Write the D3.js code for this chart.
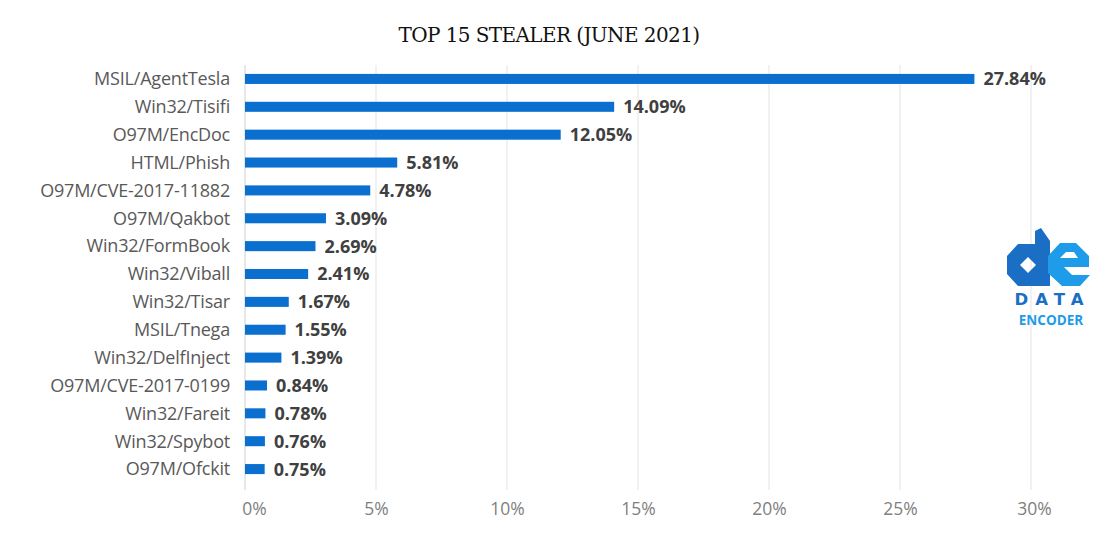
<!DOCTYPE html>
<html><head><meta charset="utf-8">
<script src="https://cdn.jsdelivr.net/npm/d3@7"></script>
<style>body{margin:0;background:#fff;}svg{display:block;}</style>
</head><body>
<script>
const categories = ["MSIL/AgentTesla","Win32/Tisifi","O97M/EncDoc","HTML/Phish","O97M/CVE-2017-11882","O97M/Qakbot","Win32/FormBook","Win32/Viball","Win32/Tisar","MSIL/Tnega","Win32/DelfInject","O97M/CVE-2017-0199","Win32/Fareit","Win32/Spybot","O97M/Ofckit"];
const values = [27.84,14.09,12.05,5.81,4.78,3.09,2.69,2.41,1.67,1.55,1.39,0.84,0.78,0.76,0.75];
const ticks = [0,5,10,15,20,25,30];
const title = "TOP 15 STEALER (JUNE 2021)";

const W=1100,H=550;
const svg=d3.select("body").append("svg").attr("width",W).attr("height",H);
const x=d3.scaleLinear().domain([0,30]).range([245,1031]);
const y=d3.scaleBand().domain(categories).range([65,483]).paddingInner(0.64).paddingOuter(0.32);

svg.append("text").attr("x",549).attr("y",42).attr("text-anchor","middle")
  .attr("font-family","'DejaVu Serif', serif").attr("font-size",20).attr("fill","#111")
  .attr("letter-spacing","-0.6").text(title);

// gridlines
svg.append("g").selectAll("line").data(ticks).join("line")
  .attr("x1",d=>x(d)).attr("x2",d=>x(d)).attr("y1",65).attr("y2",490)
  .attr("stroke",d=>d===0?"#d0d0d0":"#e3e3e3").attr("stroke-width",1);

// x axis labels
const xa=svg.append("g").attr("transform","translate(0,507)")
  .call(d3.axisBottom(x).tickValues(ticks).tickFormat(d=>d+"%").tickSize(0));
xa.select(".domain").remove();
xa.selectAll("text").attr("font-family","'Open Sans', sans-serif").attr("font-size",17.5).attr("fill","#7f7f7f").attr("dy","0").attr("dominant-baseline","middle")
  .attr("dx",(d,i)=>i===0?9:(i===6?3:0));

// y axis labels
const ya=svg.append("g").attr("transform","translate(230,0)")
  .call(d3.axisLeft(y).tickSize(0));
ya.select(".domain").remove();
ya.selectAll("text").attr("font-family","'Open Sans', sans-serif").attr("font-size",18).attr("fill","#595959").attr("x",0).attr("dy","0.35em").attr("letter-spacing","-0.2");

// bars
svg.append("g").selectAll("rect").data(values).join("rect")
  .attr("x",x(0)).attr("y",(d,i)=>y(categories[i]))
  .attr("width",d=>x(d)-x(0)).attr("height",y.bandwidth()).attr("fill","#0a6fce");

// value labels
svg.append("g").selectAll("text").data(values).join("text")
  .attr("x",d=>x(d)+9).attr("y",(d,i)=>y(categories[i])+y.bandwidth()/2).attr("dy","0.36em")
  .attr("font-family","'Open Sans', sans-serif").attr("font-weight","bold").attr("font-size",18)
  .attr("fill","#404040").text(d=>d.toFixed(2)+"%");

// logo
const lg=svg.append("g");
lg.append("path").attr("d","M1007,256 L1018,244 L1035,244 L1035,231 L1041,228 L1050,241 L1050,286 L1018,286 L1007,274 Z M1020,265 L1028,257 L1036,265 L1028,273 Z")
  .attr("fill","#1a6fc4").attr("fill-rule","evenodd");
lg.append("path").attr("d","M1048,256 L1060,243 L1076,243 L1089,256 L1089,267 L1064,267 L1072,275 L1090,275 L1080,286 L1062,286 L1048,273 Z M1060,258 L1066,252 L1074,252 L1078,258 Z")
  .attr("fill","#1e9be9").attr("fill-rule","evenodd");
lg.append("text").attr("x",1049).attr("y",305).attr("text-anchor","middle").attr("font-family","'DejaVu Sans', sans-serif").attr("font-weight","bold").attr("font-size",16.5).attr("letter-spacing","7").attr("dx",3.5).attr("fill","#1a6fc4").text("DATA");
lg.append("text").attr("x",1051).attr("y",325).attr("text-anchor","middle").attr("font-family","'Open Sans', sans-serif").attr("font-weight","bold").attr("font-size",13.5).attr("fill","#1e9be9").text("ENCODER");
</script>
</body></html>
